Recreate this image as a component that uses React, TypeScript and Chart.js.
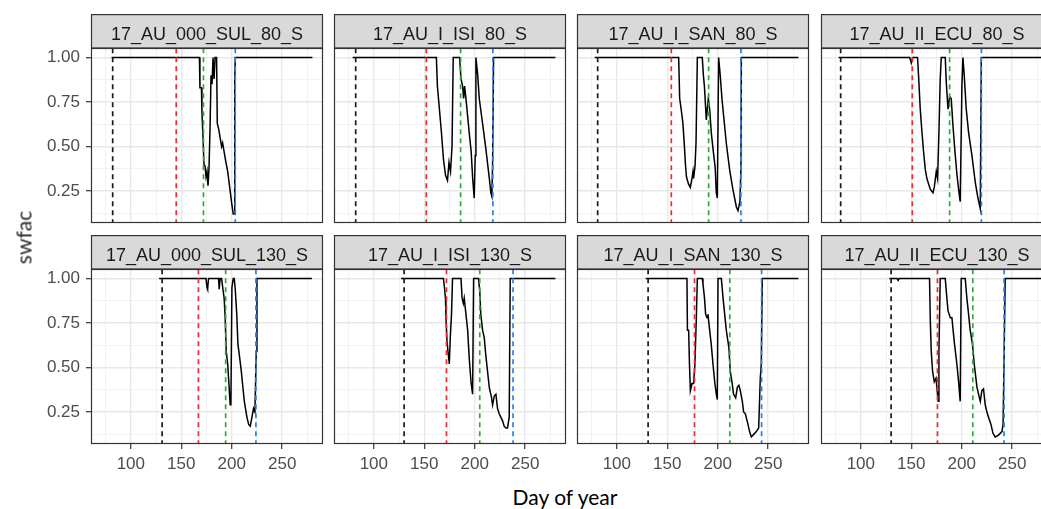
import React, { useEffect, useRef } from 'react';
import { Chart, registerables } from 'chart.js';

Chart.register(...registerables);

// ---------- data ----------
const panelTitles = [
  '17_AU_000_SUL_80_S', '17_AU_I_ISI_80_S', '17_AU_I_SAN_80_S', '17_AU_II_ECU_80_S',
  '17_AU_000_SUL_130_S', '17_AU_I_ISI_130_S', '17_AU_I_SAN_130_S', '17_AU_II_ECU_130_S',
];

const xTickValues = [100, 150, 200, 250];
const yTickValues = [0.25, 0.5, 0.75, 1.0];

// dashed reference days per panel (black, red, green, blue)
const blackDay = [82, 82, 81, 80, 131, 130, 131, 130];
const redDay = [145, 152, 154, 151, 167, 172, 177, 176];
const greenDay = [172, 186, 191, 188, 194, 205, 212, 211];
const blueDay = [203.5, 218, 223, 219.5, 224, 238, 243.5, 242];

// swfac series: [day of year, swfac]
const sul80: [number, number][] = [[81,1],[168,1],[168.5,0.83],[170,0.83],[170.5,0.69],[171.5,0.56],[172.5,0.4],[173.5,0.39],[174.5,0.33],[175.5,0.36],[176.5,0.28],[177.5,0.38],[178.5,0.6],[179.5,0.9],[180.5,0.85],[181.5,1],[182.5,0.88],[183.5,1],[185,1],[185.7,0.63],[187,0.6],[188.5,0.55],[190,0.5],[191,0.52],[192.5,0.47],[194,0.42],[196,0.36],[198,0.27],[200,0.18],[201.5,0.12],[202.5,0.12],[203,0.86],[203.5,1],[280,1]];
const isi80: [number, number][] = [[79,1],[162,1],[163,0.84],[165,0.71],[167,0.58],[169,0.43],[171,0.34],[173,0.31],[174.5,0.41],[176,0.36],[177.5,0.5],[178.7,1],[185,1],[186.4,0.88],[188,0.84],[189,0.77],[190,0.84],[192,0.73],[194.5,0.58],[196.5,0.47],[198,0.32],[199.5,0.21],[200.5,0.45],[201.2,1],[203,0.9],[204.5,0.77],[208,0.62],[211,0.49],[214.5,0.32],[216,0.24],[217,0.22],[217.7,0.39],[218.7,1],[280,1]];
const san80: [number, number][] = [[78,1],[161.3,1],[162.3,0.77],[164,0.7],[165.5,0.63],[167,0.5],[168,0.4],[169,0.33],[171,0.29],[172.8,0.27],[174.5,0.32],[175.5,0.36],[176.1,0.32],[177.5,0.39],[178.5,0.52],[179.8,1],[184.7,1],[185.8,0.9],[186.8,0.84],[188.7,0.65],[189.7,0.71],[190.7,0.77],[192,0.71],[193.6,0.58],[195.3,0.49],[197.5,0.38],[198.6,0.24],[199.6,0.21],[200.9,1],[202.5,0.9],[204.2,0.77],[205.9,0.67],[208.5,0.52],[211.8,0.37],[215,0.26],[218.5,0.16],[220.1,0.14],[222,0.19],[223,0.37],[223.4,1],[280,1]];
const ecu80: [number, number][] = [[78,1],[148.5,1],[150,0.97],[151.5,1],[156.2,1],[157.2,0.9],[158.9,0.71],[160.6,0.58],[162.2,0.47],[163.9,0.37],[165.5,0.32],[168.8,0.26],[171.5,0.24],[172.8,0.27],[174.8,0.36],[176.1,0.32],[177.4,0.58],[178.7,0.88],[179.7,1],[183.7,1],[184.7,0.86],[186.4,0.71],[188,0.78],[189.6,0.77],[191.3,0.62],[192.9,0.5],[195.3,0.34],[196.9,0.26],[198.5,0.19],[200.2,0.84],[201.2,1],[202.5,0.9],[204.5,0.71],[206.8,0.58],[210.1,0.45],[213.4,0.3],[216.1,0.21],[218.4,0.15],[219.4,1],[280,1]];
const sul130: [number, number][] = [[128,1],[174.5,1],[175.5,0.95],[176.1,0.94],[177,1],[187,1],[187.6,0.94],[188.5,1],[190,1],[191.3,0.94],[192.5,0.89],[193.5,0.78],[194.6,0.59],[196,0.52],[197.2,0.41],[198.5,0.29],[199.2,0.3],[200.2,0.95],[201.5,1],[202.5,1],[203.5,0.94],[205,0.8],[206.2,0.63],[208,0.55],[209.5,0.48],[210.7,0.41],[212.5,0.31],[215.1,0.22],[216.8,0.18],[218.4,0.17],[220,0.22],[221.6,0.27],[223,0.25],[224.3,0.59],[225,1],[279.5,1]];
const isi130: [number, number][] = [[127,1],[169,1],[170,0.95],[171,0.89],[171.5,0.78],[172.5,0.65],[173.5,0.59],[174.8,0.52],[175.8,0.67],[177,0.8],[178,1],[186.4,1],[187.5,0.89],[188.7,0.86],[189.6,0.89],[191.3,0.8],[193,0.71],[194.6,0.55],[196.3,0.42],[197.9,0.35],[198.9,1],[203.8,1],[205,0.93],[206,0.8],[207.8,0.71],[209.4,0.67],[211,0.57],[212.7,0.48],[214.4,0.39],[216.7,0.33],[217.7,0.29],[219.4,0.34],[221,0.35],[222.6,0.27],[224.3,0.24],[226,0.22],[227.6,0.2],[229.2,0.17],[230.9,0.16],[232.5,0.16],[234.2,0.22],[235.2,1],[280,1]];
const san130: [number, number][] = [[128.6,1],[169.5,1],[170,0.71],[171.2,0.71],[172,0.52],[172.9,0.37],[174.5,0.41],[176.1,0.41],[177.4,0.52],[178.8,0.78],[179.8,1],[184.7,1],[185.4,0.97],[186.9,0.89],[188,0.8],[189.4,0.78],[190.3,0.8],[192,0.71],[193.6,0.63],[195.3,0.52],[197,0.42],[198.6,0.35],[199.6,0.32],[200.3,1],[203.6,1],[205.3,0.89],[206.9,0.8],[208.5,0.71],[211.1,0.61],[212.4,0.48],[214.1,0.42],[215.7,0.35],[217.8,0.33],[219.5,0.39],[221,0.4],[222.4,0.37],[224.4,0.31],[225.7,0.25],[227.4,0.24],[230,0.18],[231.6,0.14],[233.3,0.11],[235,0.12],[238.3,0.14],[240.6,0.16],[242.2,0.44],[243.2,0.52],[244.2,1],[280,1]];
const ecu130: [number, number][] = [[128.2,1],[136,1],[137,0.99],[138,1],[168.1,1],[168.8,0.78],[169.8,0.59],[171.1,0.48],[172.8,0.42],[174.5,0.44],[175.7,0.37],[176.7,0.31],[177.4,0.59],[178.7,1],[183.7,1],[184.7,0.93],[186.4,0.82],[188.7,0.78],[190.3,0.78],[191.3,0.72],[192.9,0.63],[195.2,0.52],[196.9,0.42],[198.5,0.31],[199.5,1],[203.5,1],[205.1,0.89],[206.8,0.8],[208.4,0.71],[210.7,0.63],[212.4,0.52],[215.1,0.39],[216.7,0.35],[218.4,0.31],[220,0.37],[221.6,0.38],[223.3,0.29],[225,0.25],[226.6,0.22],[229,0.18],[231,0.13],[233.2,0.11],[236.5,0.12],[239.9,0.14],[241,0.18],[242.1,0.59],[243.1,1],[280,1]];

const panelSeries = [sul80, isi80, san80, ecu80, sul130, isi130, san130, ecu130];

// ---------- layout / style ----------
const X_MIN = 60.5, X_MAX = 290.5;
const Y_MIN = 0.07, Y_MAX = 1.054;
const COL_LEFT = [91, 334, 577, 821];
const ROW_TOP = [14, 235];
const PANEL_W = 232;
const STRIP_H = 34;
const PLOT_H = 175;
const FONT = "'Liberation Sans', Arial, sans-serif";

const isMajorX = (v: number) => xTickValues.some((t) => Math.abs(t - v) < 1e-6);
const isMajorY = (v: number) => yTickValues.some((t) => Math.abs(t - v) < 1e-6);

const facetPlugin = {
  id: 'facetBox',
  beforeDraw(chart: any) {
    const { ctx, chartArea: a } = chart;
    ctx.save();
    ctx.fillStyle = '#d9d9d9';
    ctx.fillRect(a.left, 0, a.right - a.left, a.top);
    ctx.strokeStyle = '#333333';
    ctx.lineWidth = 1.2;
    ctx.strokeRect(a.left + 0.5, 0.6, a.right - a.left - 1, a.top - 0.6);
    ctx.restore();
  },
  afterDraw(chart: any) {
    const { ctx, chartArea: a } = chart;
    ctx.save();
    ctx.strokeStyle = '#333333';
    ctx.lineWidth = 1.2;
    ctx.strokeRect(a.left + 0.5, a.top + 0.5, a.right - a.left - 1, a.bottom - a.top - 1);
    ctx.restore();
  },
};

function Panel({ idx }: { idx: number }) {
  const ref = useRef<HTMLCanvasElement>(null);
  const row = Math.floor(idx / 4);
  const col = idx % 4;
  const axisLeft = col === 0 ? 91 : 1;
  const axisBottom = row === 1 ? 40 : 1;
  const W = axisLeft + PANEL_W + 2;
  const H = STRIP_H + PLOT_H + axisBottom;

  useEffect(() => {
    const vline = (d: number, color: string) => ({
      data: [{ x: d, y: -1 }, { x: d, y: 2 }],
      borderColor: color,
      borderWidth: 1.7,
      borderDash: [5, 4],
      pointRadius: 0,
      tension: 0,
    });
    const chart = new Chart(ref.current as HTMLCanvasElement, {
      type: 'line',
      data: {
        datasets: [
          vline(blackDay[idx], '#1a1a1a'),
          vline(redDay[idx], '#f22a2a'),
          vline(greenDay[idx], '#2eaa3a'),
          vline(blueDay[idx], '#2e7fe8'),
          {
            data: panelSeries[idx].map(([x, y]) => ({ x, y })),
            borderColor: '#000000',
            borderWidth: 1.5,
            pointRadius: 0,
            tension: 0,
          },
        ] as any,
      },
      options: {
        responsive: false,
        animation: false,
        events: [],
        layout: { padding: { left: 0, right: 2, top: 0, bottom: 0 } },
        plugins: {
          legend: { display: false },
          tooltip: { enabled: false },
          title: {
            display: true,
            text: panelTitles[idx],
            fullSize: false,
            position: 'top',
            color: '#1a1a1a',
            font: { family: FONT, size: 18, weight: 'normal', lineHeight: 1.2 },
            padding: { top: 10, bottom: 2.4 },
          },
        },
        scales: {
          x: {
            type: 'linear',
            min: X_MIN,
            max: X_MAX,
            border: { display: false },
            grid: {
              color: (c: any) => (c.tick && isMajorX(c.tick.value) ? '#e8e8e8' : '#efefef'),
              lineWidth: (c: any) => (c.tick && isMajorX(c.tick.value) ? 1.4 : 0.8),
              drawTicks: row === 1,
              tickLength: 5,
              tickColor: (c: any) => (c.tick && isMajorX(c.tick.value) ? '#333333' : 'rgba(0,0,0,0)'),
              tickWidth: 1.2,
            },
            ticks: {
              display: row === 1,
              stepSize: 25,
              autoSkip: false,
              maxRotation: 0,
              includeBounds: false,
              maxTicksLimit: 50,
              padding: 5,
              color: '#4d4d4d',
              font: { family: FONT, size: 17 },
              callback: (v: any) => (isMajorX(Number(v)) ? String(v) : ''),
            },
            afterFit: (s: any) => {
              s.height = axisBottom;
              s.paddingLeft = 0;
              s.paddingRight = 0;
            },
          },
          y: {
            type: 'linear',
            min: Y_MIN,
            max: Y_MAX,
            border: { display: false },
            grid: {
              color: (c: any) => (c.tick && isMajorY(c.tick.value) ? '#e8e8e8' : '#efefef'),
              lineWidth: (c: any) => (c.tick && isMajorY(c.tick.value) ? 1.4 : 0.8),
              drawTicks: col === 0,
              tickLength: 5,
              tickColor: (c: any) => (c.tick && isMajorY(c.tick.value) ? '#333333' : 'rgba(0,0,0,0)'),
              tickWidth: 1.2,
            },
            ticks: {
              display: col === 0,
              stepSize: 0.125,
              autoSkip: false,
              includeBounds: false,
              maxTicksLimit: 50,
              padding: 6,
              color: '#4d4d4d',
              font: { family: FONT, size: 17 },
              callback: (v: any) => (isMajorY(Number(v)) ? Number(v).toFixed(2) : ''),
            },
            afterFit: (s: any) => {
              s.width = axisLeft;
              s.paddingTop = 0;
              s.paddingBottom = 0;
            },
          },
        },
      } as any,
      plugins: [facetPlugin],
    });
    return () => chart.destroy();
  }, [idx]);

  return (
    <canvas
      ref={ref}
      width={W}
      height={H}
      style={{ position: 'absolute', left: COL_LEFT[col] - axisLeft, top: ROW_TOP[row], width: W, height: H }}
    />
  );
}

export default function App() {
  return (
    <div style={{ position: 'absolute', left: 0, top: 0, width: 1041, height: 509, overflow: 'hidden', background: '#ffffff' }}>
      {panelTitles.map((_, i) => (
        <Panel key={i} idx={i} />
      ))}
      <div
        style={{
          position: 'absolute',
          left: 565 - 150,
          top: 486,
          width: 300,
          textAlign: 'center',
          fontFamily: 'Lato, sans-serif',
          fontWeight: 400,
          fontSize: 21,
          lineHeight: '21px',
          color: '#000000',
          whiteSpace: 'nowrap',
        }}
      >
        Day of year
      </div>
      <div
        style={{
          position: 'absolute',
          left: 23 - 50,
          top: 237 - 10.5,
          width: 100,
          height: 21,
          textAlign: 'center',
          fontFamily: 'Lato, sans-serif',
          fontWeight: 400,
          fontSize: 21,
          lineHeight: '21px',
          color: '#2a2a2a',
          transform: 'rotate(-90deg)',
          transformOrigin: '50% 50%',
          whiteSpace: 'nowrap',
        }}
      >
        swfac
      </div>
    </div>
  );
}
